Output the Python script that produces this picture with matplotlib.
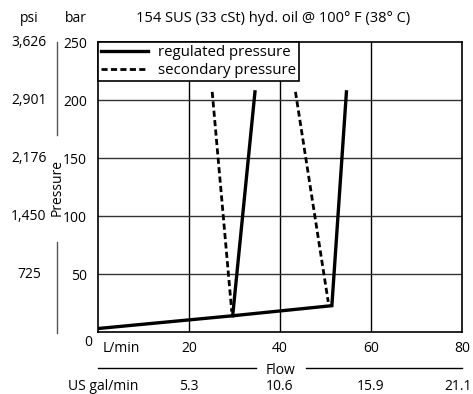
import matplotlib
matplotlib.use("Agg")
import matplotlib.pyplot as plt
from matplotlib.lines import Line2D
from matplotlib.transforms import blended_transform_factory

plt.rcParams['font.family'] = ['Open Sans', 'DejaVu Sans']

# data
flow_ticks = [20, 40, 60, 80]
gal_labels = ['5.3', '10.6', '15.9', '21.1']
bar_ticks = [50, 100, 150, 200, 250]
psi_ticks = [0, 50, 100, 150, 200, 250]
psi_labels = ['', '725', '1,450', '2,176', '2,901', '3,626']

reg_flow = [0, 29.6, 51.4, 54.6]
reg_pres = [3, 14, 22.7, 207]
reg2_flow = [29.6, 34.5]
reg2_pres = [14, 207]
sec1_flow = [25.1, 29.4]
sec1_pres = [207, 17.5]
sec2_flow = [43.4, 50.6]
sec2_pres = [207, 26]

W, H = 473, 394
fig = plt.figure(figsize=(W / 100, H / 100), dpi=100)
ax = fig.add_axes([98 / W, (H - 332) / H, 364 / W, 290 / H])
ax.set_xlim(0, 80)
ax.set_ylim(0, 250)

for x in flow_ticks[:-1]:
    ax.axvline(x, color='black', lw=1, zorder=1)
for y in bar_ticks[:-1]:
    ax.axhline(y, color='#333333', lw=1, zorder=1)

ax.plot(reg_flow, reg_pres, color='black', lw=2.4, solid_joinstyle='miter',
        label='regulated pressure', zorder=3)
ax.plot(reg2_flow, reg2_pres, color='black', lw=2.4, zorder=3)
ax.plot(sec1_flow, sec1_pres, color='black', lw=2, ls=(0, (2.2, 1.2)),
        label='secondary pressure', zorder=3)
ax.plot(sec2_flow, sec2_pres, color='black', lw=2, ls=(0, (2.2, 1.2)), zorder=3)

for s in ax.spines.values():
    s.set_linewidth(1.2)

ax.set_xticks([])
ax.set_yticks(bar_ticks)
ax.set_yticklabels([str(v) for v in bar_ticks], fontsize=10)
ax.tick_params(axis='y', length=0, pad=8)

leg = ax.legend(loc='upper left', borderaxespad=0, fancybox=False,
                edgecolor='black', framealpha=1, fontsize=10.8,
                handlelength=3.1, handletextpad=0.7, borderpad=0.2,
                labelspacing=0.2)
leg.get_frame().set_linewidth(1.2)

# x labels
tx = blended_transform_factory(ax.transData, fig.transFigure)
for x in flow_ticks:
    ax.text(x, 1 - 349 / H, str(x), transform=tx, ha='center', va='center', fontsize=10)
for x, lab in zip(flow_ticks[:-1], gal_labels[:-1]):
    ax.text(x, 1 - 386 / H, lab, transform=tx, ha='center', va='center', fontsize=10)
fig.text(472 / W, 1 - 386 / H, gal_labels[-1], ha='right', va='center', fontsize=10)
fig.text(103 / W, 1 - 349 / H, 'L/min', ha='left', va='center', fontsize=10)
fig.text(68 / W, 1 - 386 / H, 'US gal/min', ha='left', va='center', fontsize=10)
fig.text(280 / W, 1 - 370 / H, 'Flow', ha='center', va='center', fontsize=10)
fig.add_artist(Line2D([98 / W, 256 / W], [1 - 368 / H] * 2, color='black', lw=1))
fig.add_artist(Line2D([306 / W, 462 / W], [1 - 368 / H] * 2, color='black', lw=1))

# y labels (psi)
ty = blended_transform_factory(fig.transFigure, ax.transData)
for y, lab in zip(psi_ticks, psi_labels):
    ax.text(29 / W, y, lab, transform=ty, ha='center', va='center', fontsize=10)
fig.text(88 / W, 1 - 342 / H, '0', ha='center', va='center', fontsize=10)
fig.text(29 / W, 1 - 19 / H, 'psi', ha='center', va='center', fontsize=10)
fig.text(76 / W, 1 - 19 / H, 'bar', ha='center', va='center', fontsize=10)
fig.text(273 / W, 1 - 19 / H, '154 SUS (33 cSt) hyd. oil @ 100\u00b0 F (38\u00b0 C)',
         ha='center', va='center', fontsize=10.5)
fig.text(57 / W, 1 - 188 / H, 'Pressure', rotation=90, ha='center', va='center', fontsize=10)
fig.add_artist(Line2D([57 / W] * 2, [1 - 42 / H, 1 - 135 / H], color='#555555', lw=1))
fig.add_artist(Line2D([57 / W] * 2, [1 - 242 / H, 1 - 333 / H], color='#555555', lw=1))

fig.savefig('out.png', dpi=100)
